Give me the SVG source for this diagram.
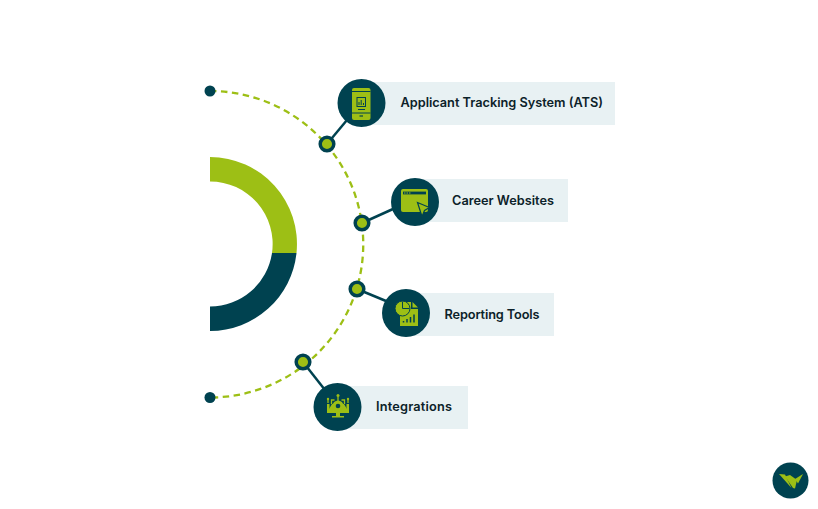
<svg xmlns="http://www.w3.org/2000/svg" width="818" height="509" viewBox="0 0 818 509">
<style>
.label{fill:#e8f1f3}
.disc{fill:#004250}
.g{fill:#9dbf15}
.t{font-family:"Inter","Liberation Sans",sans-serif;font-weight:600;font-size:12.75px;fill:#0c2229}
.link{stroke:#004250;stroke-width:2.500;fill:none}
.dot{fill:#9dbf15;stroke:#004250;stroke-width:3.500}
.ic{fill:none;stroke:#004250;stroke-width:1}
</style>
<rect width="818" height="509" fill="#fff"/>
<g id="ring">
<path d="M210 157A87 87 0 0 1 296.500 253H272A62.500 62.500 0 0 0 210 181.500Z" fill="#9dbf15"/>
<path d="M296.500 253A87 87 0 0 1 210 331V306.500A62.500 62.500 0 0 0 272 253Z" fill="#004250"/>
</g>
<g id="connectors">
<path d="M210 91A153 153 0 0 1 210 397.500" fill="none" stroke="#9dbf15" stroke-width="2.300" stroke-dasharray="6.500 4.500"/>
<path class="link" d="M327 144L347 120"/>
<path class="link" d="M362 223L393 209"/>
<path class="link" d="M357 289L386 301"/>
<path class="link" d="M303 362L325 390"/>
</g>
<g id="end-top"><circle cx="210" cy="91" r="5.500" class="disc"/></g>
<g id="end-bottom"><circle cx="210" cy="397.500" r="5.500" class="disc"/></g>
<g id="joint-1"><circle cx="327" cy="144" r="6.800" class="dot"/></g>
<g id="joint-2"><circle cx="362" cy="223" r="6.800" class="dot"/></g>
<g id="joint-3"><circle cx="357" cy="289" r="6.800" class="dot"/></g>
<g id="joint-4"><circle cx="303" cy="362" r="6.800" class="dot"/></g>
<g id="node-ats">
<rect class="label" x="362" y="82" width="253" height="43"/>
<circle class="disc" cx="361.500" cy="103" r="24"/>
<rect class="g" x="352" y="88" width="18.500" height="32" rx="2"/>
<path class="ic" d="M352 91.500H370.500M352 113H370.500"/>
<rect x="357" y="97.500" width="8.500" height="9" fill="#9dbf15" stroke="#004250"/>
<path class="ic" d="M359 105V102M361.200 105V100M363.500 105V103M358 109.500H365"/>
<path d="M359.500 116H363" stroke="#004250" stroke-width="1.200"/>
<text class="t" x="400.500" y="106.500" textLength="202.500">Applicant Tracking System (ATS)</text>
</g>
<g id="node-career">
<rect class="label" x="415" y="179" width="153" height="43"/>
<circle class="disc" cx="415" cy="202" r="24"/>
<rect class="g" x="401" y="189" width="27" height="23" rx="2"/>
<path d="M403 193H426" stroke="#004250" stroke-width="2.800"/>
<path d="M404 193H411" stroke="#9dbf15" stroke-width="1.200" stroke-dasharray="1.500 1"/>
<path d="M417.500 202.500L429.500 207.500L424.500 210.500L422 216.500Z" fill="#9dbf15" stroke="#004250" stroke-width="1.200"/>
<text class="t" x="452" y="204.500" textLength="102">Career Websites</text>
</g>
<g id="node-reporting">
<rect class="label" x="406" y="293" width="148" height="43"/>
<circle class="disc" cx="406" cy="313" r="24"/>
<path class="g" d="M400 302H411V309H418V326H400Z"/>
<path class="g" d="M412.500 302L418 307.500H412.500Z"/>
<circle class="g" cx="402.500" cy="308.500" r="7.500" stroke="#004250"/>
<path d="M402.500 308.500V301.500M402.500 308.500H409.500" stroke="#004250" fill="none"/>
<path d="M403.500 322.500V321M407 322.500V319M410.500 322.500V317M414 322.500V314.500" stroke="#004250" stroke-width="1.500"/>
<text class="t" x="444.500" y="318.500" textLength="95">Reporting Tools</text>
</g>
<g id="node-integrations">
<rect class="label" x="338" y="386" width="130" height="43"/>
<circle class="disc" cx="337.500" cy="407" r="24"/>
<path class="g" d="M327 404H329.500V409H346.500V404H349V413H327ZM336 413H340V416H344V417.500H332V416H336Z"/>
<path class="g" d="M329 409L332 404H344L347 409Z"/>
<circle class="g" cx="338" cy="406" r="5.500"/>
<circle cx="338" cy="406" r="2.300" fill="#004250"/>
<path d="M338 401V396.500M331.500 404V400H334.500M344.500 404V400H341.500M328 400V403M348 400V403" stroke="#9dbf15" stroke-width="1.300" fill="none"/>
<circle class="g" cx="338" cy="395.500" r="1.500"/>
<circle class="g" cx="328" cy="399" r="1.200"/>
<circle class="g" cx="348" cy="399" r="1.200"/>
<text class="t" x="376" y="411" textLength="76">Integrations</text>
</g>
<g id="logo">
<circle class="disc" cx="790.500" cy="480.500" r="18"/>
<path class="g" d="M779 474L785 474.500L791.500 488Z"/>
<path class="g" d="M785 476.500L790 475L797 480L795 488.500L793 488Z"/>
<path class="g" d="M795 479L803 474L798 483.500Z"/>
</g>
</svg>
